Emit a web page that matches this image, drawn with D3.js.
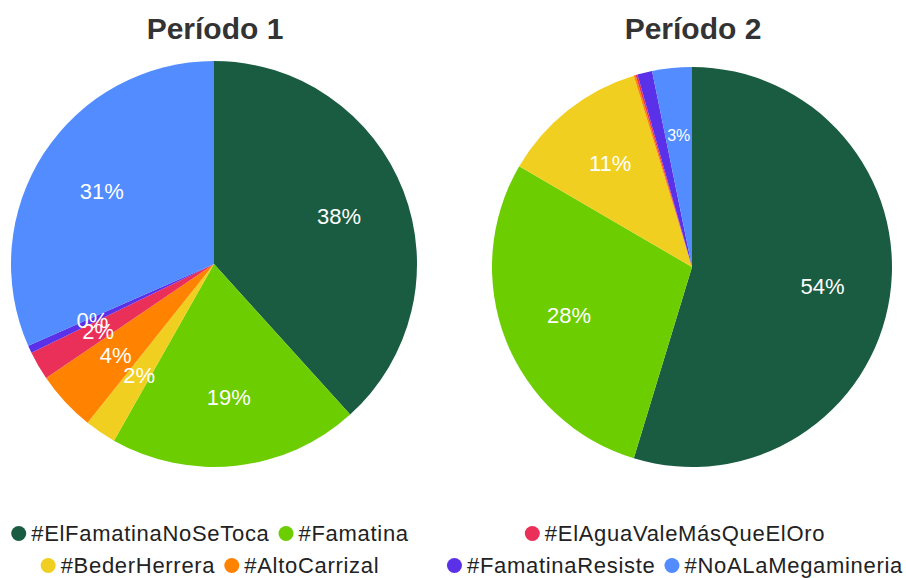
<!DOCTYPE html>
<meta charset="utf-8">
<style>
body { margin: 0; background: #fff; }
text { font-family: 'Liberation Sans', Arial, sans-serif; }
.title { font-size: 30px; font-weight: bold; fill: #333; }
.pct { font-size: 22px; fill: #fff; }
.legend text { font-size: 22px; fill: #222; letter-spacing: 0.7px; }
</style>
<svg width="906" height="578"></svg>
<script src="https://d3js.org/d3.v7.min.js"></script>
<script>
var svg = d3.select("svg"),
	width = +svg.attr("width"),
	height = +svg.attr("height");

// hashtags, in slice order (clockwise from 12 o'clock)
var hashtags = ["#ElFamatinaNoSeToca", "#Famatina", "#BederHerrera", "#AltoCarrizal",
	"#ElAguaValeMásQueElOro", "#FamatinaResiste", "#NoALaMegamineria"];
var colores = ["#1a5c41", "#6ccd00", "#f0cf20", "#ff8300", "#ea2f58", "#5a30e8", "#528cff"];

// share of tweets per hashtag (%)
var periodo1 = [38.3, 19.9, 2.5, 4.8, 2.3, 0.6, 31.6];
var periodo2 = [54.7, 28.7, 11.9, 0.15, 0.15, 1.2, 3.2];

// labels as shown on the slices ("" = not shown)
var etiquetas1 = ["38%", "19%", "2%", "4%", "2%", "0%", "31%"];
var etiquetas2 = ["54%", "28%", "11%", "", "", "", "3%"];

var titulos = ["Período 1", "Período 2"];

// legend, split in two blocks of two rows
var leyendaIzq = [["#ElFamatinaNoSeToca", "#Famatina"], ["#BederHerrera", "#AltoCarrizal"]];
var leyendaDer = [["#ElAguaValeMásQueElOro"], ["#FamatinaResiste", "#NoALaMegamineria"]];

var color = d3.scaleOrdinal().domain(hashtags).range(colores);

var pie = d3.pie().sort(null).value(function(d) { return d.value; });

var charts = [
	{ title: titulos[0], values: periodo1, labels: etiquetas1, cx: 214, cy: 264, r: 203 },
	{ title: titulos[1], values: periodo2, labels: etiquetas2, cx: 692, cy: 267, r: 200 }
];

charts.forEach(function(c) {
	var data = hashtags.map(function(h, i) {
		return { key: h, value: c.values[i], label: c.labels[i] };
	});
	var arcs = pie(data);
	var arc = d3.arc().innerRadius(0).outerRadius(c.r);
	var labelArc = d3.arc().innerRadius(c.r * 0.66).outerRadius(c.r * 0.66);

	svg.append("text")
		.attr("class", "title")
		.attr("x", c.cx + 1)
		.attr("y", 39)
		.attr("text-anchor", "middle")
		.text(c.title);

	var g = svg.append("g")
		.attr("transform", "translate(" + c.cx + "," + c.cy + ")");

	g.selectAll("path")
		.data(arcs)
		.enter().append("path")
		.attr("d", arc)
		.attr("fill", function(d) { return color(d.data.key); });

	g.selectAll("text")
		.data(arcs.filter(function(d) { return d.data.label != ""; }))
		.enter().append("text")
		.attr("class", "pct")
		.attr("transform", function(d) { return "translate(" + labelArc.centroid(d) + ")"; })
		.attr("text-anchor", "middle")
		.attr("dy", "0.36em")
		.style("font-size", function(d) {
			// thin slices next to big ones get a smaller label
			return (d.endAngle - d.startAngle) < 0.25 && d.data.value > 3 ? "16px" : null;
		})
		.text(function(d) { return d.data.label; });
});

function drawLegend(rows, centerX) {
	var lg = svg.append("g").attr("class", "legend");
	rows.forEach(function(row, ri) {
		var y = 533.5 + ri * 32;
		var rowG = lg.append("g");
		var x = 0;
		row.forEach(function(key) {
			rowG.append("circle")
				.attr("cx", x + 7.5)
				.attr("cy", y)
				.attr("r", 7.5)
				.attr("fill", color(key));
			var t = rowG.append("text")
				.attr("x", x + 20)
				.attr("y", y + 7)
				.text(key);
			x += 20 + t.node().getComputedTextLength() + 9;
		});
		x -= 9;
		rowG.attr("transform", "translate(" + (centerX - x / 2) + ",0)");
	});
}

drawLegend(leyendaIzq, 210);
drawLegend(leyendaDer, 675);
</script>
